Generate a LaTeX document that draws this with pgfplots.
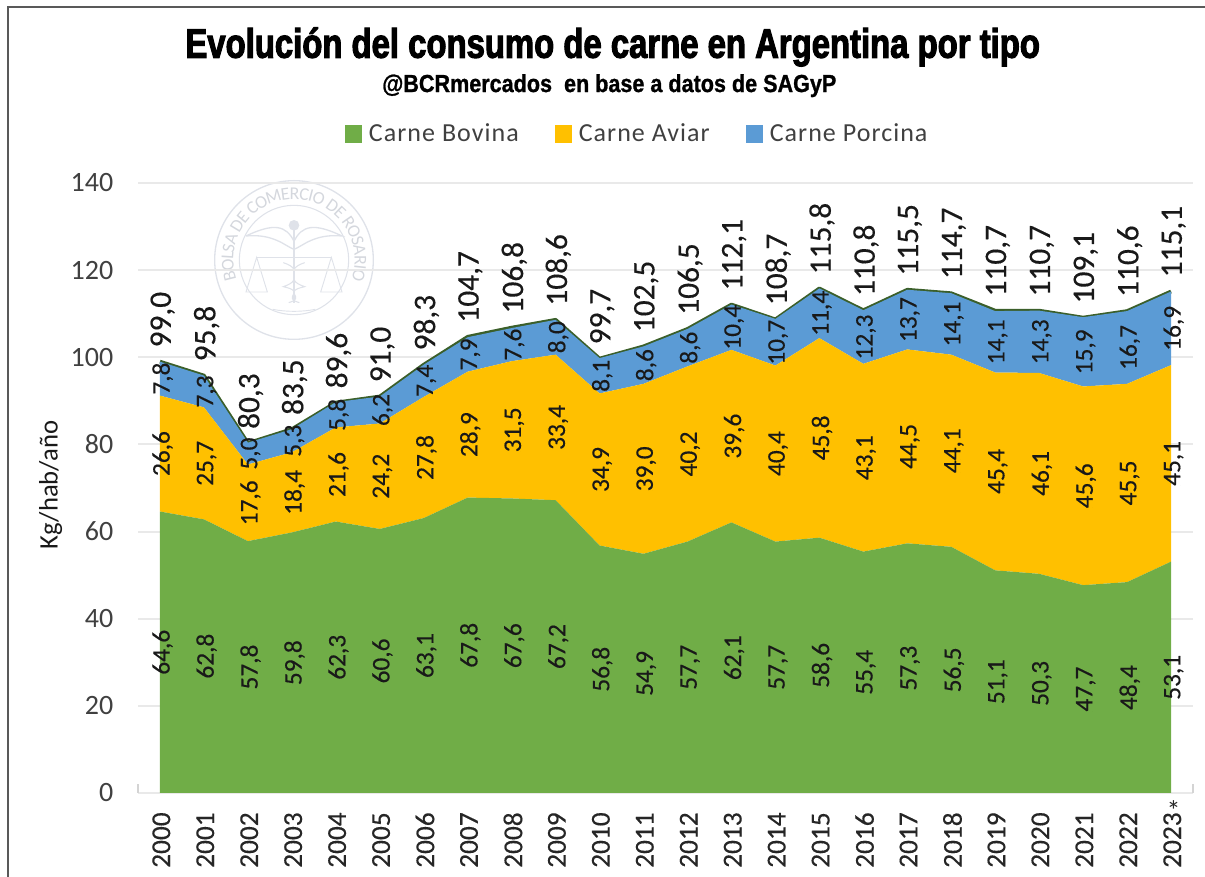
\documentclass[border=0pt]{standalone}
\usepackage{pgfplots}
\pgfplotsset{compat=1.18}
\usepackage{pgfplotstable}
\usepackage{fontspec}
\usetikzlibrary{decorations.text}
\setmainfont{Carlito}
\newfontfamily\titlefont[FakeStretch=0.795,FakeBold=2.5]{Liberation Sans Bold}
\newfontfamily\subfont[FakeStretch=0.875,FakeBold=1]{Liberation Sans Bold}
\newfontfamily\legfont[LetterSpace=4]{Carlito}
\newfontfamily\labfont[FakeBold=0.35]{Carlito}
\definecolor{cbov}{HTML}{70AD47}
\definecolor{cavi}{HTML}{FFC000}
\definecolor{cpor}{HTML}{5B9BD5}
\definecolor{ctot}{HTML}{3B5F2A}
\definecolor{cgrid}{HTML}{E9E9E9}
\definecolor{ctxt}{HTML}{404040}
\definecolor{cseal}{HTML}{DFE2E9}
\pgfplotstableread{
year bov avi por tot
2000 64.6 26.6 7.8 99.0
2001 62.8 25.7 7.3 95.8
2002 57.8 17.6 5.0 80.3
2003 59.8 18.4 5.3 83.5
2004 62.3 21.6 5.8 89.6
2005 60.6 24.2 6.2 91.0
2006 63.1 27.8 7.4 98.3
2007 67.8 28.9 7.9 104.7
2008 67.6 31.5 7.6 106.8
2009 67.2 33.4 8.0 108.6
2010 56.8 34.9 8.1 99.7
2011 54.9 39.0 8.6 102.5
2012 57.7 40.2 8.6 106.5
2013 62.1 39.6 10.4 112.1
2014 57.7 40.4 10.7 108.7
2015 58.6 45.8 11.4 115.8
2016 55.4 43.1 12.3 110.8
2017 57.3 44.5 13.7 115.5
2018 56.5 44.1 14.1 114.7
2019 51.1 45.4 14.1 110.7
2020 50.3 46.1 14.3 110.7
2021 47.7 45.6 15.9 109.1
2022 48.4 45.5 16.7 110.6
2023 53.1 45.1 16.9 115.1
}\data
\pgfplotsset{
  inlab/.style={stack plots=false, draw=none, mark=none, forget plot,
    point meta=explicit,
    nodes near coords={\pgfmathprintnumber[fixed,fixed zerofill,precision=1,use comma,assume math mode=true]{\pgfplotspointmeta}},
    every node near coord/.append style={rotate=90, anchor=center, font=\labfont\fontsize{19}{19}\selectfont, text=black!90, inner sep=0pt, yshift=-2pt}},
}
\begin{document}
\begin{tikzpicture}
\path[use as bounding box] (0,0) rectangle (903.75pt,657.75pt);
% frame
\draw[color=black!65,line width=1.5pt] (6pt,0) -- (6pt,652.5pt) -- (903.75pt,652.5pt);
% seal
\begin{scope}[shift={(220.5pt,462.75pt)},cseal]
  \draw[line width=1pt] (0,0) circle (59.5pt);
  \draw[line width=0.8pt] (0,0) circle (41pt);
  \path[decorate,decoration={text along path,text align=center,raise=-4.5pt,
     text color=cseal!95!black,text={|\fontsize{13.5}{13.5}\selectfont|BOLSA DE COMERCIO DE ROSARIO}}]
     (232:50pt) arc (232:-52:50pt);
  \draw[line width=1pt] (-36pt,18pt) .. controls (-15pt,28pt) and (-6pt,26pt) .. (0,14pt) .. controls (6pt,26pt) and (15pt,28pt) .. (36pt,18pt) .. controls (15pt,20pt) and (6pt,10pt) .. (0,8pt) .. controls (-6pt,10pt) and (-15pt,20pt) .. (-36pt,18pt);
  \fill (0,26pt) circle (4pt);
  \draw[line width=1.2pt] (0,26pt) -- (0,-32pt);
  \draw[line width=0.8pt] (-28pt,2pt) -- (28pt,2pt);
  \draw[line width=0.7pt] (-28pt,2pt) -- (-36pt,-24pt) -- (-20pt,-24pt) -- cycle;
  \draw[line width=0.7pt] (28pt,2pt) -- (36pt,-24pt) -- (20pt,-24pt) -- cycle;
  \draw[line width=0.8pt] (-8pt,-2pt) .. controls (10pt,-8pt) and (-10pt,-14pt) .. (8pt,-20pt) .. controls (-10pt,-24pt) and (10pt,-28pt) .. (-4pt,-32pt);
  \draw[line width=0.8pt] (8pt,-2pt) .. controls (-10pt,-8pt) and (10pt,-14pt) .. (-8pt,-20pt) .. controls (10pt,-24pt) and (-10pt,-28pt) .. (4pt,-32pt);
  \draw[line width=0.7pt] (-16pt,-37pt) .. controls (-6pt,-39pt) and (6pt,-39pt) .. (16pt,-37pt);
\end{scope}
\begin{axis}[
  at={(103.5pt,63pt)}, anchor=south west,
  scale only axis, width=791.25pt, height=457.5pt,
  xmin=1999.5, xmax=2023.5, ymin=0, ymax=140,
  clip=false, stack plots=y, area legend, axis on top=false,
  axis line style={draw=none},
  axis x line*=bottom, axis y line*=left,
  ytick={0,20,...,140},
  xtick={2000,...,2023},
  minor xtick={1999.5,2000.5,...,2023.5},
  major tick length=0pt,
  minor tick length=6.5pt,
  tick style={draw=cgrid!80!gray, line width=1pt},
  ymajorgrids, grid style={draw=cgrid,line width=1.5pt},
  yticklabel style={font=\fontsize{21}{21}\selectfont, text=ctxt, /pgf/number format/assume math mode=true, xshift=-15pt},
  xticklabel style={font=\labfont\fontsize{20.5}{20.5}\selectfont, text=black!85, rotate=90, anchor=east, xshift=-11pt, yshift=-1pt,
     /pgf/number format/1000 sep=, /pgf/number format/assume math mode=true},
  legend style={at={(0.4735,1.0803)}, draw=none, fill=none, legend columns=3,
     font=\legfont\fontsize{19.5}{19.5}\selectfont, text=ctxt, anchor=center,
     /tikz/every odd column/.append style={column sep=3pt},
     /tikz/every even column/.append style={column sep=25pt}},
  legend cell align=left,
  legend image code/.code={\fill[#1] (0pt,-6.5pt) rectangle (13pt,6.5pt);},
]
\addplot[fill=cbov,draw=none] table[x=year,y=bov] {\data} \closedcycle;
\addlegendentry{Carne Bovina}
\addplot[fill=cavi,draw=none] table[x=year,y=avi] {\data} \closedcycle;
\addlegendentry{Carne Aviar}
\addplot[fill=cpor,draw=none] table[x=year,y=por] {\data} \closedcycle;
\addlegendentry{Carne Porcina}
\addplot[stack plots=false, forget plot, no markers, fill=none, draw=ctot, line width=2.8pt, line join=round] table[x=year,y=tot] {\data};
\addplot[inlab] table[x=year,y expr=\thisrow{bov}/2,meta=bov] {\data};
\addplot[inlab] table[x=year,y expr=\thisrow{bov}+\thisrow{avi}/2,meta=avi] {\data};
\addplot[inlab] table[x=year,y expr=\thisrow{bov}+\thisrow{avi}+\thisrow{por}/2,meta=por] {\data};
\addplot[inlab, every node near coord/.append style={anchor=west, font=\labfont\fontsize{23.5}{23.5}\selectfont, xshift=10.5pt}] table[x=year,y=tot,meta=tot] {\data};
\node[font=\fontsize{21}{21}\selectfont,text=black!85] at (axis cs:2023,0) [yshift=-13pt,xshift=2pt] {*};
\end{axis}
\node[font=\titlefont\fontsize{31}{31}\selectfont] at (459.5pt,622.5pt) {Evolución del consumo de carne en Argentina por tipo};
\node[font=\subfont\fontsize{18.5}{18.5}\selectfont] at (457pt,593.5pt) {@BCRmercados\ \ en base a datos de SAGyP};
\node[rotate=90,font=\fontsize{20}{20}\selectfont,text=black!90] at (38pt,294pt) {Kg/hab/año};
\end{tikzpicture}
\end{document}
